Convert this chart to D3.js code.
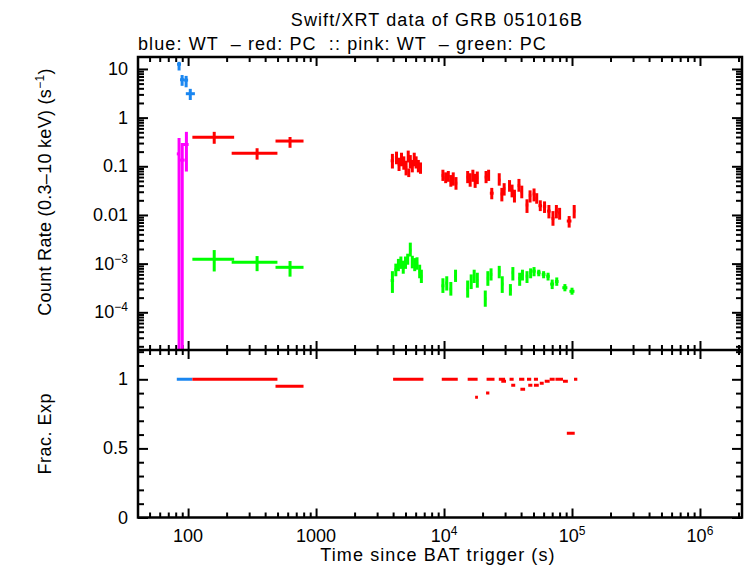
<!DOCTYPE html>
<html>
<head>
<meta charset="utf-8">
<script src="https://cdn.jsdelivr.net/npm/d3@7"></script>
<style>
body { margin: 0; background: #fff; }
text { font-family: "Liberation Sans", Arial, sans-serif; font-size: 18px; fill: #000; }
.wide { letter-spacing: 1.1px; }
.tick line { stroke: #000; stroke-width: 2; }
</style>
</head>
<body>
<div id="chart"></div>
<script>
var w = 746;
var h = 568;

// blue: WT count rate
var blueT  = [85, 89.8, 96.5, 104];
var blueT0 = [82, 86.5, 93, 96];
var blueT1 = [88, 93, 100, 113];
var blueR  = [12.5, 6.0, 5.9, 3.1];
var blueLo = [9.3, 4.5, 4.2, 2.3];
var blueHi = [14, 7.5, 7.2, 3.9];

// pink: WT (second band)
var pinkT  = [85, 90, 97];
var pinkT0 = [81.6, 86.5, 91];
var pinkT1 = [86.5, 94, 101];
var pinkR  = [0.18, 0.134, 0.28];
var pinkLo = [1e-7, 1e-7, 0.078];
var pinkHi = [0.38, 0.30, 0.51];

// red: PC early bins
var redT  = [160, 346, 626];
var redT0 = [108, 219, 482];
var redT1 = [229, 499, 798];
var redR  = [0.395, 0.185, 0.33];
var redLo = [0.29, 0.137, 0.24];
var redHi = [0.51, 0.235, 0.40];

// green: PC early bins
var greenR  = [1.23e-3, 1.07e-3, 8.4e-4];
var greenLo = [6.9e-4, 7.0e-4, 5.4e-4];
var greenHi = [1.9e-3, 1.43e-3, 1.13e-3];

// red: PC late data
var redLateT = [3950, 4250, 4450, 4650, 4850, 5050, 5250, 5300, 5450, 5650, 5850, 6050, 6300, 6550,
  9800, 10300, 10800, 11300, 11800, 12400,
  15300, 16000, 16800, 17500, 18200,
  21300, 22300, 23600,
  27000, 28300, 29500,
  32500, 34000, 35500,
  38500, 40500,
  44500, 47000,
  50500, 53000,
  56500, 61000, 66000, 71000, 75500, 80000, 95000, 104000];
var redLateDt = [120, 120, 100, 100, 100, 100, 100, 100, 100, 100, 100, 100, 120, 120,
  220, 220, 220, 220, 220, 280,
  300, 300, 300, 300, 300,
  500, 500, 800,
  600, 600, 600,
  700, 700, 700,
  900, 900,
  1000, 1000,
  1200, 1200,
  1800, 1800, 2000, 1800, 2000, 2000, 4000, 2200];
var redLateR = [0.13, 0.15, 0.11, 0.14, 0.12, 0.095, 0.16, 0.075, 0.13, 0.10, 0.14, 0.12, 0.10, 0.09,
  0.065, 0.058, 0.062, 0.05, 0.055, 0.045,
  0.06, 0.052, 0.065, 0.05, 0.058,
  0.06, 0.065, 0.028,
  0.052, 0.027, 0.035,
  0.04, 0.032, 0.025,
  0.04, 0.03,
  0.016, 0.025,
  0.027, 0.022,
  0.0155, 0.015, 0.012, 0.0085, 0.012, 0.011, 0.0075, 0.012];
var redLateLo = [0.09, 0.11, 0.08, 0.10, 0.085, 0.065, 0.12, 0.06, 0.09, 0.075, 0.10, 0.09, 0.075, 0.07,
  0.05, 0.045, 0.048, 0.038, 0.04, 0.033,
  0.045, 0.038, 0.048, 0.036, 0.043,
  0.045, 0.05, 0.021,
  0.04, 0.019, 0.025,
  0.03, 0.023, 0.018,
  0.03, 0.022,
  0.011, 0.018,
  0.019, 0.017,
  0.012, 0.011, 0.0085, 0.006, 0.0085, 0.008, 0.0055, 0.0085];
var redLateHi = [0.18, 0.2, 0.15, 0.19, 0.16, 0.13, 0.21, 0.09, 0.17, 0.135, 0.19, 0.16, 0.135, 0.12,
  0.085, 0.075, 0.08, 0.066, 0.075, 0.06,
  0.08, 0.072, 0.085, 0.07, 0.078,
  0.08, 0.085, 0.036,
  0.072, 0.036, 0.045,
  0.052, 0.042, 0.033,
  0.055, 0.04,
  0.021, 0.032,
  0.035, 0.028,
  0.02, 0.019, 0.016, 0.012, 0.016, 0.014, 0.0095, 0.016];

// green: PC late data
var greenLateT = [3950, 4200, 4400, 4600, 4800, 5000, 5200, 5450, 5650, 5900, 6150, 6450, 6650,
  9800, 10500, 11300, 12300,
  15300, 16300, 17200, 18200,
  21000, 22000, 23300,
  27000, 28500,
  33000, 34500,
  39000, 41000,
  44500, 47500,
  50500, 55000,
  60000, 65000,
  70000, 76000,
  88000, 100000];
var greenLateDt = [120, 100, 100, 100, 100, 100, 100, 100, 100, 100, 120, 120, 120,
  250, 250, 250, 250,
  300, 300, 300, 300,
  400, 400, 500,
  600, 600,
  700, 700,
  900, 900,
  1000, 1000,
  1500, 1800,
  2000, 2000,
  2500, 2500,
  4000, 4500];
var greenLateR = [4.5e-4, 7.5e-4, 9.5e-4, 1.05e-3, 8.5e-4, 1.05e-3, 1.25e-3, 1.9e-3, 1.1e-3, 9.5e-4, 1.0e-3, 7e-4, 5.5e-4,
  3.5e-4, 4e-4, 3e-4, 5.5e-4,
  3e-4, 4.2e-4, 5.5e-4, 4.5e-4,
  1.9e-4, 5e-4, 6e-4,
  7e-4, 3.8e-4,
  2.9e-4, 6.5e-4,
  5e-4, 6e-4,
  5.5e-4, 6.5e-4,
  7e-4, 6.5e-4,
  6e-4, 5.5e-4,
  3.8e-4, 4.3e-4,
  3.2e-4, 2.7e-4];
var greenLateLo = [2.5e-4, 5.5e-4, 7e-4, 7.8e-4, 6.2e-4, 7.8e-4, 9.5e-4, 1.4e-3, 8e-4, 7e-4, 7.5e-4, 5e-4, 4e-4,
  2.5e-4, 2.8e-4, 2.2e-4, 4.2e-4,
  2e-4, 3e-4, 4e-4, 3.2e-4,
  1.3e-4, 3.5e-4, 4.5e-4,
  5e-4, 2.5e-4,
  2.2e-4, 4.5e-4,
  3.5e-4, 4.5e-4,
  4e-4, 5e-4,
  5.5e-4, 5.5e-4,
  5e-4, 4.5e-4,
  3e-4, 3.5e-4,
  2.7e-4, 2.3e-4];
var greenLateHi = [7e-4, 1.0e-3, 1.25e-3, 1.4e-3, 1.15e-3, 1.4e-3, 1.6e-3, 2.7e-3, 1.45e-3, 1.3e-3, 1.35e-3, 9.5e-4, 7.5e-4,
  5e-4, 5.5e-4, 4.2e-4, 7.5e-4,
  4.5e-4, 6e-4, 7.5e-4, 6.5e-4,
  2.8e-4, 7e-4, 8e-4,
  9e-4, 5.5e-4,
  3.8e-4, 8.5e-4,
  6.5e-4, 7.5e-4,
  7e-4, 8e-4,
  8.5e-4, 7.5e-4,
  7e-4, 6.5e-4,
  4.7e-4, 5.2e-4,
  3.8e-4, 3.2e-4];

// fractional exposure (bottom panel)
var fracStart = [81.6, 108, 482, 4000, 9600, 15300, 17500, 21500, 21300, 26800, 28000, 32500, 33500,
  38600, 39500, 44500, 45500, 50400, 50400, 56000, 61200, 66900, 74200, 85000, 91100, 103700];
var fracStop = [108, 499, 798, 6900, 12800, 18300, 18400, 24800, 22600, 30000, 30500, 35000, 36000,
  42400, 43000, 48000, 49000, 54200, 55000, 60100, 66900, 73200, 85000, 92800, 105000, 110000];
var fracValue = [1, 1, 0.95, 1, 1, 1, 0.87, 1, 0.9, 1, 0.985, 1, 0.957,
  1, 0.928, 1, 0.957, 1, 0.957, 0.971, 0.985, 1, 1, 0.985, 0.61, 1];
var fracMode = ["WT", "PC", "PC", "PC", "PC", "PC", "PC", "PC", "PC", "PC", "PC", "PC", "PC",
  "PC", "PC", "PC", "PC", "PC", "PC", "PC", "PC", "PC", "PC", "PC", "PC", "PC"];

// tick labels
var xTicks = [100, 1000, 1e4, 1e5, 1e6];
var xTickLabels = [["100", ""], ["1000", ""], ["10", "4"], ["10", "5"], ["10", "6"]];
var yTicks = [10, 1, 0.1, 0.01, 1e-3, 1e-4];
var yTickLabels = [["10", ""], ["1", ""], ["0.1", ""], ["0.01", ""], ["10", "\u22123"], ["10", "\u22124"]];
var fracTicks = [0, 0.5, 1];
var fracTickLabels = ["0", "0.5", "1"];

var colors = { blue: "#1a86f0", red: "#ff0000", pink: "#ff00ff", green: "#00ff00" };

var plotLeft = 138, plotRight = 742, plotTop = 57, plotMid = 350, plotBottom = 517.5;

var xScale = d3.scaleLog().domain([40.6, 2.13e6]).range([plotLeft, plotRight]);
var yScale = d3.scaleLog().domain([17.6, 1.68e-5]).range([plotTop, plotMid]);
var fScale = d3.scaleLinear().domain([0, 1.212]).range([plotBottom, plotMid]);

var svg = d3.select("#chart").append("svg")
  .attr("width", w).attr("height", h);

svg.append("clipPath").attr("id", "clipTop").append("rect")
  .attr("x", plotLeft).attr("y", plotTop).attr("width", plotRight - plotLeft).attr("height", plotMid - plotTop);
svg.append("clipPath").attr("id", "clipBot").append("rect")
  .attr("x", plotLeft).attr("y", plotMid).attr("width", plotRight - plotLeft).attr("height", plotBottom - plotMid);

// ticks
var xMinor = xScale.ticks().filter(function(v) { return xTicks.indexOf(v) < 0; });
var yMinor = yScale.ticks().filter(function(v) { return yTicks.indexOf(v) < 0 && v > 1e-5; });
var fMinor = d3.range(0, 1.25, 0.1).filter(function(v) { return Math.abs(v * 2 - Math.round(v * 2)) > 1e-6; });

function tickAxis(axis, vals, len, tx, ty) {
  var g = svg.append("g")
    .attr("transform", "translate(" + tx + "," + ty + ")")
    .call(axis.tickValues(vals).tickSize(-len).tickFormat(""));
  g.select(".domain").remove();
}
[[xTicks, 9], [xMinor, 5]].forEach(function(p) {
  tickAxis(d3.axisTop(xScale), p[0], p[1], 0, plotTop);
  tickAxis(d3.axisBottom(xScale), p[0], p[1], 0, plotMid);
  tickAxis(d3.axisTop(xScale), p[0], p[1], 0, plotMid);
  tickAxis(d3.axisBottom(xScale), p[0], p[1], 0, plotBottom);
});
[[yTicks, 10], [yMinor, 6]].forEach(function(p) {
  tickAxis(d3.axisLeft(yScale), p[0], p[1], plotLeft, 0);
  tickAxis(d3.axisRight(yScale), p[0], p[1], plotRight, 0);
});
[[fracTicks, 10], [fMinor, 6]].forEach(function(p) {
  tickAxis(d3.axisLeft(fScale), p[0], p[1], plotLeft, 0);
  tickAxis(d3.axisRight(fScale), p[0], p[1], plotRight, 0);
});

// error bars
function drawBars(clip, rows, color, yS) {
  var g = svg.append("g").attr("clip-path", "url(#" + clip + ")")
    .attr("stroke", color).attr("stroke-width", 3);
  rows.forEach(function(d) {
    g.append("line")
      .attr("x1", xScale(d.t0)).attr("x2", xScale(d.t1))
      .attr("y1", yS(d.r)).attr("y2", yS(d.r));
    if (d.lo != null) {
      g.append("line")
        .attr("x1", xScale(d.t)).attr("x2", xScale(d.t))
        .attr("y1", yS(d.lo)).attr("y2", yS(d.hi));
    }
  });
}

function rowsOf(T, T0, T1, R, Lo, Hi) {
  return T.map(function(t, i) {
    return { t: t, t0: T0[i], t1: T1[i], r: R[i], lo: Lo[i], hi: Hi[i] };
  });
}
function rowsDt(T, Dt, R, Lo, Hi) {
  return T.map(function(t, i) {
    return { t: t, t0: t - Dt[i], t1: t + Dt[i], r: R[i], lo: Lo[i], hi: Hi[i] };
  });
}

drawBars("clipTop", rowsOf(pinkT, pinkT0, pinkT1, pinkR, pinkLo, pinkHi), colors.pink, yScale);
drawBars("clipTop", rowsOf(blueT, blueT0, blueT1, blueR, blueLo, blueHi), colors.blue, yScale);
drawBars("clipTop", rowsOf(redT, redT0, redT1, redR, redLo, redHi), colors.red, yScale);
drawBars("clipTop", rowsOf(redT, redT0, redT1, greenR, greenLo, greenHi), colors.green, yScale);
drawBars("clipTop", rowsDt(redLateT, redLateDt, redLateR, redLateLo, redLateHi), colors.red, yScale);
drawBars("clipTop", rowsDt(greenLateT, greenLateDt, greenLateR, greenLateLo, greenLateHi), colors.green, yScale);

fracStart.forEach(function(s, i) {
  drawBars("clipBot", [{ t0: s, t1: fracStop[i], r: fracValue[i], lo: null }],
    fracMode[i] == "WT" ? colors.blue : colors.red, fScale);
});

// frames
svg.append("rect").attr("x", plotLeft).attr("y", plotTop)
  .attr("width", plotRight - plotLeft).attr("height", plotBottom - plotTop)
  .attr("fill", "none").attr("stroke", "#000").attr("stroke-width", 2.5);
svg.append("line").attr("x1", plotLeft).attr("x2", plotRight).attr("y1", plotMid).attr("y2", plotMid)
  .attr("stroke", "#000").attr("stroke-width", 2.5);

// tick labels
function supLabel(g, parts) {
  g.text(parts[0]);
  if (parts[1]) {
    g.append("tspan").attr("dy", -7).style("font-size", "12px").text(parts[1]);
  }
}
xTicks.forEach(function(v, i) {
  var t = svg.append("text").attr("x", xScale(v)).attr("y", plotBottom + 24)
    .attr("text-anchor", "middle");
  supLabel(t, xTickLabels[i]);
});
yTicks.forEach(function(v, i) {
  var t = svg.append("text").attr("x", plotLeft - 10).attr("y", yScale(v) + 6)
    .attr("text-anchor", "end");
  supLabel(t, yTickLabels[i]);
});
fracTicks.forEach(function(v, i) {
  svg.append("text").attr("x", plotLeft - 10).attr("y", fScale(v) + 6)
    .attr("text-anchor", "end").text(fracTickLabels[i]);
});

// titles
svg.append("text").attr("class", "wide").attr("x", 437).attr("y", 26)
  .attr("text-anchor", "middle").text("Swift/XRT data of GRB 051016B");
svg.append("text").attr("class", "wide").attr("x", plotLeft).attr("y", 50)
  .attr("xml:space", "preserve")
  .text("blue: WT  \u2013 red: PC  :: pink: WT  \u2013 green: PC");
svg.append("text").attr("class", "wide").attr("x", 438).attr("y", 561)
  .attr("text-anchor", "middle").text("Time since BAT trigger (s)");

var yl = svg.append("text").attr("transform", "translate(51,192) rotate(-90)")
  .attr("text-anchor", "middle").style("letter-spacing", "0.3px").text("Count Rate (0.3\u201310 keV) (s");
yl.append("tspan").attr("dy", -7).style("font-size", "12px").text("\u22121");
yl.append("tspan").attr("dy", 7).text(")");

svg.append("text").attr("transform", "translate(51," + ((plotMid + plotBottom) / 2) + ") rotate(-90)")
  .attr("text-anchor", "middle").style("letter-spacing", "0.5px").text("Frac. Exp");
</script>
</body>
</html>
